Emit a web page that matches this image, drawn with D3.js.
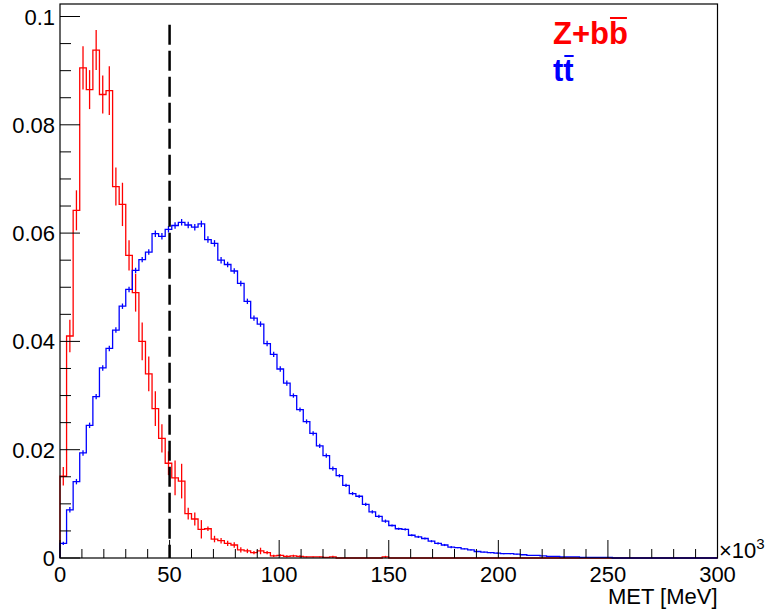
<!DOCTYPE html>
<html>
<head>
<meta charset="utf-8">
<script src="https://cdn.jsdelivr.net/npm/d3@7"></script>
<style>
body { margin: 0; background: #fff; }
text { font-family: "Liberation Sans", Arial, Helvetica, sans-serif; }
</style>
</head>
<body>
<div id="plot"></div>
<script>
// 100 bins from 0 to 300 (x10^3 MeV)
var nbins = 100;
var xmin = 0, xmax = 300;

// Z+bb histogram (normalised)
var zbb_values = [0.0151, 0.0410, 0.0642, 0.0905, 0.0865, 0.0938, 0.0856, 0.0863, 0.0686, 0.0653,
                  0.0559, 0.0490, 0.0400, 0.0340, 0.0276, 0.0221, 0.0175, 0.0148, 0.0142, 0.0082,
                  0.0072, 0.0053, 0.0054, 0.0035, 0.0032, 0.0027, 0.0024, 0.0015, 0.0013, 0.0010,
                  0.0013, 0.0010, 0.0004, 0.0005, 0.0003, 0.0004, 0.0003, 0.0002, 0.0002, 0.0002,
                  0.0001, 0.0002, 0, 0, 0, 0, 0, 0, 0, 0.0002,
                  0, 0, 0, 0, 0, 0, 0, 0, 0, 0,
                  0, 0, 0, 0, 0, 0, 0, 0, 0, 0,
                  0, 0, 0, 0, 0, 0, 0, 0, 0, 0,
                  0, 0, 0, 0, 0, 0, 0, 0, 0, 0,
                  0, 0, 0, 0, 0, 0, 0, 0, 0, 0];
var zbb_errors = [0.0017, 0.0030, 0.0037, 0.0040, 0.0036, 0.0037, 0.0035, 0.0045, 0.0035, 0.0040,
                  0.0028, 0.0035, 0.0035, 0.0032, 0.0032, 0.0026, 0.0022, 0.0032, 0.0032, 0.0011,
                  0.0012, 0.0017, 0.0004, 0.0006, 0.0005, 0.0005, 0.0005, 0.0005, 0.0004, 0.0003,
                  0.0006, 0.0003, 0.0002, 0.0002, 0.0002, 0.0002, 0.0002, 0.0001, 0.0001, 0.0001,
                  0.0001, 0.0002, 0, 0, 0, 0, 0, 0, 0, 0.0002,
                  0, 0, 0, 0, 0, 0, 0, 0, 0, 0,
                  0, 0, 0, 0, 0, 0, 0, 0, 0, 0,
                  0, 0, 0, 0, 0, 0, 0, 0, 0, 0,
                  0, 0, 0, 0, 0, 0, 0, 0, 0, 0,
                  0, 0, 0, 0, 0, 0, 0, 0, 0, 0];

// ttbar histogram (normalised)
var tt_values = [0.0027, 0.0089, 0.0141, 0.0194, 0.0245, 0.0298, 0.0351, 0.0387, 0.0421, 0.0465,
                 0.0496, 0.0531, 0.0551, 0.0565, 0.0599, 0.0594, 0.0607, 0.0614, 0.0620, 0.0615,
                 0.0611, 0.0617, 0.0588, 0.0581, 0.0550, 0.0542, 0.0530, 0.0507, 0.0474, 0.0443,
                 0.0432, 0.0396, 0.0376, 0.0349, 0.0323, 0.0300, 0.0274, 0.0252, 0.0230, 0.0207,
                 0.0189, 0.0165, 0.0152, 0.0134, 0.0119, 0.0114, 0.0099, 0.0085, 0.0077, 0.0068,
                 0.0060, 0.0054, 0.0053, 0.0042, 0.0039, 0.0036, 0.0031, 0.0027, 0.0024, 0.0020,
                 0.0019, 0.0017, 0.0015, 0.0012, 0.0011, 0.0010, 0.0009, 0.0008, 0.0008, 0.0007,
                 0.0006, 0.0005, 0.0005, 0.0004, 0.0003, 0.0003, 0.0002, 0.0002, 0.0002, 0.0001,
                 0.0001, 0.0001, 0.0001, 0.0001, 0, 0, 0, 0, 0, 0,
                 0, 0, 0, 0, 0, 0, 0, 0, 0, 0];
var tt_errors = [0.0003, 0.0005, 0.0005, 0.0005, 0.0005, 0.0005, 0.0005, 0.0005, 0.0005, 0.0005,
                 0.0005, 0.0005, 0.0005, 0.0005, 0.0006, 0.0006, 0.0006, 0.0006, 0.0006, 0.0006,
                 0.0006, 0.0006, 0.0006, 0.0006, 0.0006, 0.0005, 0.0005, 0.0005, 0.0005, 0.0005,
                 0.0005, 0.0005, 0.0005, 0.0005, 0.0005, 0.0004, 0.0004, 0.0004, 0.0004, 0.0004,
                 0.0004, 0.0004, 0.0003, 0.0003, 0.0003, 0.0003, 0.0003, 0.0003, 0.0003, 0.0003,
                 0.0002, 0.0002, 0.0002, 0.0002, 0.0002, 0.0002, 0.0002, 0.0002, 0.0002, 0.0002,
                 0.0001, 0.0001, 0.0001, 0.0001, 0.0001, 0.0001, 0.0001, 0.0001, 0.0001, 0.0001,
                 0, 0, 0, 0, 0, 0, 0, 0, 0, 0,
                 0, 0, 0, 0, 0, 0, 0, 0, 0, 0,
                 0, 0, 0, 0, 0, 0, 0, 0, 0, 0];

var y_ticks = [0, 0.02, 0.04, 0.06, 0.08, 0.1];
var y_labels = ["0", "0.02", "0.04", "0.06", "0.08", "0.1"];
var x_ticks = [0, 50, 100, 150, 200, 250, 300];
var x_labels = ["0", "50", "100", "150", "200", "250", "300"];
var cut_value = 50;   // dashed cut line
var cut_top = 0.0985;

var width = 767, height = 613;
var frame = {left: 60, right: 717.5, top: 4, bottom: 558};

var x = d3.scaleLinear().domain([xmin, xmax]).range([frame.left, frame.right]);
var y = d3.scaleLinear().domain([0, 0.10231]).range([frame.bottom, frame.top]);
var binw = (xmax - xmin) / nbins;

var svg = d3.select("#plot").append("svg")
    .attr("width", width)
    .attr("height", height);

// step outline of a histogram
function histPoints(values) {
    var pts = [[xmin, 0]];
    for (var i = 0; i < values.length; i++) {
        pts.push([xmin + i * binw, values[i]]);
        pts.push([xmin + (i + 1) * binw, values[i]]);
    }
    pts.push([xmax, 0]);
    return pts;
}

function drawHist(values, errors, color) {
    var line = d3.line()
        .x(function(d) { return x(d[0]); })
        .y(function(d) { return y(d[1]); });
    svg.append("path")
        .attr("d", line(histPoints(values)))
        .attr("fill", "none")
        .attr("stroke", color)
        .attr("stroke-width", 1.3);
    // error bars at bin centres
    var bars = [];
    for (var i = 0; i < values.length; i++) {
        if (errors[i] > 0) bars.push({c: xmin + (i + 0.5) * binw, v: values[i], e: errors[i]});
    }
    svg.append("g").selectAll("line")
        .data(bars)
        .enter().append("line")
        .attr("x1", function(d) { return x(d.c); })
        .attr("x2", function(d) { return x(d.c); })
        .attr("y1", function(d) { return y(Math.max(0, d.v - d.e)); })
        .attr("y2", function(d) { return y(d.v + d.e); })
        .attr("stroke", color)
        .attr("stroke-width", 1.3);
}

drawHist(zbb_values, zbb_errors, "#ff0000");
drawHist(tt_values, tt_errors, "#0000ff");

// dashed line at MET = 50
svg.append("line")
    .attr("x1", x(cut_value)).attr("x2", x(cut_value))
    .attr("y1", y(cut_top)).attr("y2", y(0))
    .attr("stroke", "#000")
    .attr("stroke-width", 2.5)
    .attr("stroke-dasharray", "20,6");

// frame
svg.append("rect")
    .attr("x", frame.left).attr("y", frame.top)
    .attr("width", frame.right - frame.left)
    .attr("height", frame.bottom - frame.top)
    .attr("fill", "none")
    .attr("stroke", "#000")
    .attr("stroke-width", 1.2);

// y axis ticks (ROOT style: inside the frame)
var yminor = d3.range(0, 0.1001, 0.005);
svg.append("g").selectAll("line")
    .data(yminor)
    .enter().append("line")
    .attr("x1", frame.left)
    .attr("x2", function(d, i) { return frame.left + (i % 4 === 0 ? 20 : 11); })
    .attr("y1", function(d) { return y(d); })
    .attr("y2", function(d) { return y(d); })
    .attr("stroke", "#000")
    .attr("stroke-width", 1);

svg.append("g").selectAll("text")
    .data(y_ticks)
    .enter().append("text")
    .attr("x", 55)
    .attr("y", function(d) { return y(d) + 8; })
    .attr("text-anchor", "end")
    .attr("font-size", 22)
    .text(function(d, i) { return y_labels[i]; });

// x axis ticks
var xminor = d3.range(0, 301, 10);
svg.append("g").selectAll("line")
    .data(xminor)
    .enter().append("line")
    .attr("x1", function(d) { return x(d); })
    .attr("x2", function(d) { return x(d); })
    .attr("y1", frame.bottom)
    .attr("y2", function(d) { return frame.bottom - (d % 50 === 0 ? 18 : 9); })
    .attr("stroke", "#000")
    .attr("stroke-width", 1);

svg.append("g").selectAll("text")
    .data(x_ticks)
    .enter().append("text")
    .attr("x", function(d) { return x(d); })
    .attr("y", 582)
    .attr("text-anchor", "middle")
    .attr("font-size", 22)
    .text(function(d, i) { return x_labels[i]; });

// exponent and axis title
var expo = svg.append("text")
    .attr("x", 719)
    .attr("y", 558)
    .attr("font-size", 22);
expo.append("tspan").text("\u00d710");
expo.append("tspan").attr("font-size", 15).attr("dy", -9).text("3");

svg.append("text")
    .attr("x", frame.right)
    .attr("y", 604)
    .attr("text-anchor", "end")
    .attr("font-size", 22)
    .text("MET [MeV]");

// legend texts, last character gets an overline
function barText(xpos, ypos, color, plain, barred) {
    var t = svg.append("text")
        .attr("x", xpos).attr("y", ypos)
        .attr("font-size", 31)
        .attr("font-weight", "bold")
        .attr("fill", color);
    t.append("tspan").text(plain);
    var b = t.append("tspan").text(barred);
    var full = t.node().getBBox();
    var xs = full.x + full.width - b.node().getComputedTextLength();
    return {x0: xs, x1: full.x + full.width};
}

var zl = barText(553, 44, "#ff0000", "Z+b", "b");
svg.append("rect")
    .attr("x", zl.x0 + 1).attr("y", 17)
    .attr("width", zl.x1 - zl.x0 - 2).attr("height", 2)
    .attr("fill", "#ff0000");

var tl = barText(553, 81, "#0000ff", "t", "t");
svg.append("rect")
    .attr("x", tl.x0 + 1).attr("y", 55)
    .attr("width", tl.x1 - tl.x0 - 1).attr("height", 2)
    .attr("fill", "#0000ff");
</script>
</body>
</html>
